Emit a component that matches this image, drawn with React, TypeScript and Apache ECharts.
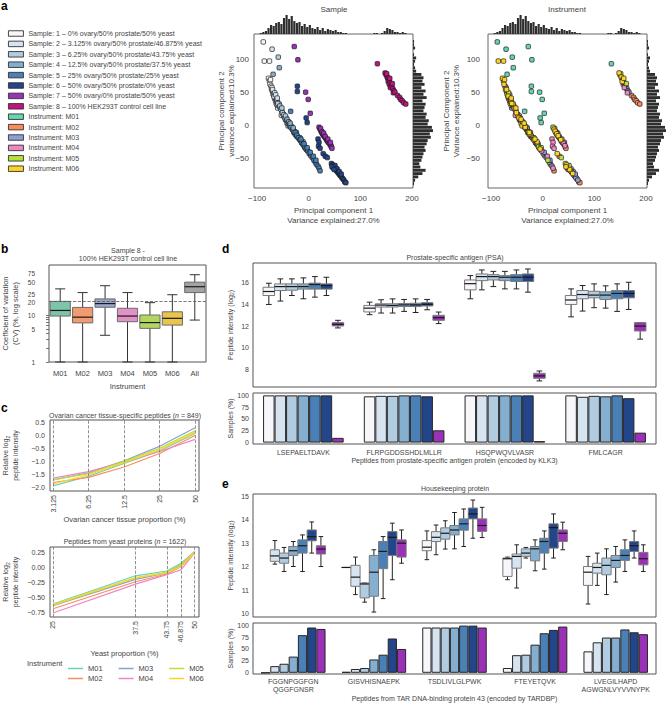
import React, { useEffect, useRef } from "react";
import * as echarts from "echarts";

const FONT = "'Liberation Sans', Arial, Helvetica, sans-serif";
const TEXT = "#444444";
const MINUS = "\u2212";

// ---------------- Panel a ----------------
const SAMPLE_NAMES = [
  "Sample: 1 \u2013 0% ovary/50% prostate/50% yeast",
  "Sample: 2 \u2013 3.125% ovary/50% prostate/46.875% yeast",
  "Sample: 3 \u2013 6.25% ovary/50% prostate/43.75% yeast",
  "Sample: 4 \u2013 12.5% ovary/50% prostate/37.5% yeast",
  "Sample: 5 \u2013 25% ovary/50% prostate/25% yeast",
  "Sample: 6 \u2013 50% ovary/50% prostate/0% yeast",
  "Sample: 7 \u2013 50% ovary/0% prostate/50% yeast",
  "Sample: 8 \u2013 100% HEK293T control cell line",
];
const INSTRUMENT_NAMES = ["M01", "M02", "M03", "M04", "M05", "M06"];
const SAMPLE_COLORS = ["#f6f6fb", "#d6e3f1", "#b1cce0", "#84afd1", "#4a80b6", "#23458a", "#9b31b7", "#c3127f"];
const INSTRUMENT_COLORS = ["#68d3b2", "#fb8b5d", "#8d9fd3", "#ee86c5", "#b6e03c", "#ffd324"];

// PCA points: [PC1, PC2, sample (1-8), instrument (1-6)]
const PCA_POINTS: number[][] = [
  // sample 1
  [-88, 127, 1, 1], [-86, 98, 1, 6], [-76, 98, 1, 6],
  [-78, 72, 1, 6], [-76, 68, 1, 5], [-75, 63, 1, 6], [-73, 60, 1, 4], [-72, 55, 1, 6], [-70, 52, 1, 2],
  [-69, 48, 1, 5], [-67, 45, 1, 6], [-66, 41, 1, 4], [-64, 38, 1, 2], [-63, 34, 1, 6], [-61, 31, 1, 5],
  [-60, 27, 1, 3], [-74, 70, 1, 6], [-71, 58, 1, 2], [-68, 50, 1, 3], [-65, 43, 1, 5], [-62, 36, 1, 6],
  // sample 2
  [-71, 116, 2, 1], [-70, 55, 2, 6], [-66, 50, 2, 5], [-67, 44, 2, 4], [-62, 40, 2, 6], [-60, 35, 2, 2],
  [-58, 30, 2, 5], [-55, 27, 2, 6], [-52, 22, 2, 3], [-53, 16, 2, 4], [-48, 14, 2, 6], [-45, 9, 2, 2],
  [-42, 4, 2, 5], [-40, 0, 2, 6], [-64, 47, 2, 4], [-57, 33, 2, 6], [-50, 18, 2, 2], [-44, 12, 2, 5],
  [-38, 3, 2, 3], [-61, 42, 2, 6],
  // sample 3
  [-59, 104, 3, 1], [-60, 34, 3, 6], [-56, 30, 3, 5], [-54, 25, 3, 4], [-51, 20, 3, 6], [-48, 17, 3, 2],
  [-46, 12, 3, 6], [-43, 9, 3, 5], [-40, 4, 3, 3], [-37, 0, 3, 4], [-34, -3, 3, 6], [-31, -6, 3, 2],
  [-29, -10, 3, 5], [-26, -13, 3, 6], [-23, -16, 3, 3], [-52, 27, 3, 6], [-45, 15, 3, 4], [-39, 6, 3, 2],
  [-33, -1, 3, 6], [-27, -9, 3, 5],
  // sample 4
  [-57, 88, 4, 1], [-69, 78, 4, 1], [-42, 10, 4, 6], [-39, 6, 4, 5], [-37, 2, 4, 4], [-34, -2, 4, 6],
  [-31, -5, 4, 2], [-28, -9, 4, 5], [-25, -12, 4, 6], [-22, -16, 4, 4], [-19, -19, 4, 3], [-16, -22, 4, 6],
  [-13, -26, 4, 2], [-10, -29, 4, 5], [-7, -33, 4, 4], [-4, -36, 4, 3], [-36, 4, 4, 6], [-30, -3, 4, 3],
  [-24, -10, 4, 2], [-17, -18, 4, 5], [-11, -24, 4, 6],
  // sample 5
  [-35, 22, 5, 1], [-26, -10, 5, 6], [-23, -14, 5, 5], [-20, -18, 5, 4], [-17, -21, 5, 6], [-14, -25, 5, 2],
  [-11, -28, 5, 3], [-8, -32, 5, 5], [-5, -35, 5, 6], [-2, -38, 5, 4], [1, -42, 5, 3], [4, -45, 5, 2],
  [7, -48, 5, 3], [10, -52, 5, 5], [13, -55, 5, 3], [15, -58, 5, 2], [18, -61, 5, 3], [20, -64, 5, 4],
  [22, -68, 5, 2], [-15, -20, 5, 6], [-9, -27, 5, 4], [-3, -33, 5, 5], [3, -40, 5, 3], [9, -46, 5, 4],
  [14, -52, 5, 3],
  // sample 6
  [-22, 60, 6, 1], [-22, 52, 6, 1], [-5, 12, 6, 1], [-3, 5, 6, 1],
  [18, -20, 6, 4], [20, -25, 6, 4], [19, -31, 6, 4], [22, -34, 6, 4], [28, -42, 6, 6], [32, -46, 6, 2],
  [36, -48, 6, 5], [44, -57, 6, 5], [46, -59, 6, 6], [48, -61, 6, 5], [50, -64, 6, 2], [52, -66, 6, 6],
  [54, -68, 6, 5], [56, -70, 6, 3], [58, -72, 6, 6], [60, -74, 6, 3], [62, -76, 6, 2], [64, -78, 6, 3],
  [66, -80, 6, 2], [68, -82, 6, 3], [70, -85, 6, 2], [72, -86, 6, 2], [47, -63, 6, 4], [51, -60, 6, 5],
  [55, -65, 6, 4], [59, -69, 6, 3], [63, -73, 6, 3], [45, -62, 6, 6], [49, -66, 6, 2],
  // sample 7
  [-28, 120, 7, 1], [-21, 100, 7, 1], [-6, 51, 7, 1], [-1, 40, 7, 1], [3, 19, 7, 1],
  [20, -2, 7, 5], [22, -5, 7, 6], [24, -8, 7, 6], [25, -10, 7, 5], [27, -12, 7, 6], [28, -14, 7, 5],
  [30, -15, 7, 6], [31, -17, 7, 2], [33, -19, 7, 5], [35, -21, 7, 6], [36, -23, 7, 4], [38, -25, 7, 3],
  [40, -26, 7, 4], [41, -28, 7, 2], [43, -30, 7, 4], [44, -32, 7, 2], [45, -34, 7, 2], [23, -4, 7, 3],
  [26, -9, 7, 4], [29, -11, 7, 3], [32, -16, 7, 4], [37, -20, 7, 5], [42, -25, 7, 3],
  // sample 8
  [133, 94, 8, 1], [148, 80, 8, 6], [150, 77, 8, 5], [152, 74, 8, 6], [153, 72, 8, 5], [155, 70, 8, 6],
  [154, 67, 8, 6], [157, 66, 8, 5], [156, 63, 8, 4], [159, 61, 8, 4], [158, 58, 8, 4], [161, 60, 8, 3],
  [163, 56, 8, 3], [165, 53, 8, 3], [164, 50, 8, 4], [167, 51, 8, 3], [172, 46, 8, 2], [176, 43, 8, 2],
  [178, 40, 8, 2], [181, 38, 8, 2], [184, 35, 8, 2], [188, 33, 8, 2], [151, 79, 8, 5], [157, 72, 8, 6],
  [162, 64, 8, 5],
];
const PC_X_TICKS = [-100, 0, 100, 200];
const PC_Y_TICKS = [-50, 0, 50, 100];
const HIST_BIN = 5;
const PC1_HIST_START = -95;
const PC1_HIST = [
  1, 2, 3, 6, 9, 8, 11, 12, 10, 16, 19, 15, 18, 13, 11, 12, 8, 10, 7, 9, 6, 5, 7, 4, 6, 3, 5, 4, 3, 4,
  2, 2, 1, 1, 0, 0, 0, 0, 0, 0, 0, 0, 0, 0, 1, 1, 0, 1, 3, 6, 5, 4, 2, 2, 1, 2, 1,
];
const PC2_HIST_START = -90;
const PC2_HIST = [
  1, 2, 5, 9, 12, 7, 6, 8, 9, 10, 12, 11, 13, 14, 17, 16, 19, 18, 14, 15, 12, 13, 10, 11, 12, 9, 13, 10,
  12, 8, 11, 9, 10, 8, 3, 2, 1, 2, 3, 1, 0, 2, 1, 1, 0,
];

// ---------------- Panel b ----------------
const CV_CATEGORIES = ["M01", "M02", "M03", "M04", "M05", "M06", "All"];
const CV_COLORS = ["#7ec4a8", "#f29b72", "#9aa6cb", "#e292c6", "#b2d661", "#eac54b", "#a3a3a3"];
// [low whisker, q1, median, q3, high whisker] in CV %
const CV_BOXES = [
  [1, 9.5, 12.5, 19.5, 36],
  [1, 6.8, 9.0, 14.5, 30],
  [3.7, 14.6, 17.5, 22, 42],
  [1, 7.2, 9.5, 13.9, 30],
  [1, 5.2, 6.9, 10, 18.3],
  [1, 6.1, 8.5, 11.7, 27],
  [7.8, 30, 40, 50, 72],
];
const CV_TICKS = [1, 5, 10, 20, 25, 50, 75, 100];
const CV_MINOR_TICKS = [1, 2, 3, 4, 5, 6, 7, 8, 9, 10];
const CV_THRESHOLD = 20;

// ---------------- Panel c ----------------
const OVARIAN_PCT = [3.125, 6.25, 12.5, 25, 50];
const OVARIAN_LABELS = ["3.125", "6.25", "12.5", "25", "50"];
const OVARIAN_LINES = [
  [-1.95, -1.58, -1.08, -0.6, 0.08],
  [-1.82, -1.62, -1.22, -0.7, 0.0],
  [-1.72, -1.45, -0.98, -0.42, 0.3],
  [-1.65, -1.4, -1.02, -0.62, -0.15],
  [-1.72, -1.48, -1.0, -0.5, 0.18],
  [-1.88, -1.52, -1.05, -0.55, 0.12],
];
const OVARIAN_Y_TICKS = [-2, -1.5, -1, -0.5, 0, 0.5];
const YEAST_PCT = [25, 37.5, 43.75, 46.875, 50];
const YEAST_LABELS = ["25", "37.5", "43.75", "46.875", "50"];
const YEAST_LINES = [
  [-0.6, -0.13, -0.05, 0.08, 0.26],
  [-0.68, -0.23, -0.1, 0.02, 0.25],
  [-0.63, -0.19, -0.08, 0.05, 0.27],
  [-0.75, -0.27, -0.11, -0.03, 0.24],
  [-0.62, -0.17, -0.07, 0.06, 0.26],
  [-0.61, -0.16, -0.08, 0.02, 0.25],
];
const YEAST_Y_TICKS = [-0.75, -0.5, -0.25, 0, 0.25];

// ---------------- Panel d ----------------
const PSA_PEPTIDES = ["LSEPAELTDAVK", "FLRPGDDSSHDLMLLR", "HSQPWQVLVASR", "FMLCAGR"];
// per sample (1-7), per peptide: [low, q1, median, q3, high] log2 intensity
const PSA_BOXES = [
  [[13.99, 14.81, 15.18, 15.57, 15.94], [13.05, 13.3, 13.65, 13.9, 14.2], [14.51, 15.33, 15.9, 16.24, 16.64], [12.85, 13.99, 14.4, 14.81, 15.42]],
  [[14.3, 15.27, 15.63, 15.88, 16.34], [13.2, 13.75, 13.93, 14.05, 14.42], [15.33, 16.18, 16.55, 16.79, 17.16], [13.38, 14.51, 14.9, 15.27, 15.73]],
  [[14.81, 15.3, 15.63, 15.88, 16.34], [13.2, 13.75, 13.9, 14.05, 14.5], [15.63, 16.24, 16.55, 16.73, 17.03], [13.69, 14.6, 14.85, 15.2, 15.88]],
  [[14.51, 15.4, 15.63, 15.88, 16.43], [13.35, 13.8, 13.95, 14.08, 14.45], [15.42, 16.18, 16.49, 16.64, 17.03], [13.65, 14.45, 14.85, 15.15, 15.7]],
  [[14.66, 15.4, 15.82, 15.95, 16.55], [13.25, 13.8, 13.95, 14.1, 14.5], [15.42, 16.1, 16.49, 16.73, 17.16], [13.35, 14.51, 15.0, 15.27, 15.88]],
  [[14.81, 15.4, 15.73, 15.88, 16.49], [13.5, 13.85, 14.0, 14.15, 14.45], [15.12, 16.1, 16.49, 16.79, 17.25], [13.53, 14.6, 15.0, 15.27, 16.03]],
  [[11.83, 12.01, 12.16, 12.32, 12.53], [12.23, 12.53, 12.77, 12.99, 13.29], [6.96, 7.2, 7.42, 7.66, 7.87], [10.8, 11.55, 12.0, 12.32, 12.32]],
];
const PSA_DETECTED = [
  [100, 98, 100, 100],
  [100, 99, 100, 97],
  [100, 99, 100, 99],
  [100, 100, 100, 98],
  [100, 100, 100, 100],
  [100, 98, 100, 94],
  [10, 26, 3, 21],
];
const PSA_Y_TICKS = [8, 10, 12, 14, 16];
const PCT_TICKS = [0, 25, 50, 75, 100];

// ---------------- Panel e ----------------
const TDP_PEPTIDES = ["FGGNPGGFGN\nQGGFGNSR", "GISVHISNAEPK", "TSDLIVLGLPWK", "FTEYETQVK", "LVEGILHAPD\nAGWGNLVYVVNYPK"];
const TDP_BOXES: (number[] | null)[][] = [
  [null, [11.97, 11.97, 11.97, 11.97, 11.97], [12.3, 12.68, 12.83, 13.11, 13.52], [11.45, 11.59, 12.34, 12.37, 12.41], [10.42, 11.21, 11.77, 12.01, 12.44]],
  [[12.11, 12.23, 12.46, 12.72, 13.11], [10.82, 11.17, 11.56, 12.06, 12.41], [12.51, 13.07, 13.25, 13.49, 13.77], [11.1, 11.94, 12.44, 12.54, 12.93], [11.21, 11.73, 11.97, 12.15, 12.58]],
  [[11.8, 12.15, 12.37, 12.58, 12.82], [10.5, 10.68, 11.27, 11.31, 11.31], [12.75, 13.17, 13.42, 13.65, 13.95], [12.37, 12.44, 12.58, 12.76, 12.82], [10.82, 11.66, 12.06, 12.37, 12.76]],
  [[12.01, 12.48, 12.68, 12.86, 13.07], [10.08, 10.75, 11.77, 12.48, 12.72], [12.76, 13.35, 13.56, 13.75, 14.3], [11.83, 12.25, 12.76, 12.86, 13.14], [11.35, 11.97, 12.27, 12.48, 12.86]],
  [[11.8, 12.58, 12.89, 13.14, 13.35], [10.65, 11.92, 12.65, 13.07, 13.28], [12.86, 13.55, 13.82, 14.03, 14.45], [11.9, 12.58, 13.07, 13.21, 13.52], [11.8, 12.27, 12.48, 12.72, 13.14]],
  [[12.58, 13.1, 13.28, 13.56, 13.9], [11.45, 12.48, 13.25, 13.49, 13.85], [13.21, 14.03, 14.24, 14.49, 14.83], [12.37, 12.79, 13.66, 13.82, 14.24], [12.37, 12.65, 12.89, 13.07, 13.52]],
  [[12.01, 12.54, 12.75, 12.89, 13.28], [12.15, 12.41, 13.0, 13.14, 13.56], [13.24, 13.5, 13.75, 14.03, 14.52], [12.72, 13.07, 13.42, 13.56, 13.89], [11.8, 12.08, 12.34, 12.61, 12.93]],
];
const TDP_DETECTED = [
  [0, 2, 95, 10, 45],
  [14, 8, 95, 37, 64],
  [19, 10, 95, 38, 74],
  [34, 28, 95, 59, 74],
  [79, 38, 99, 83, 91],
  [95, 72, 99, 90, 85],
  [92, 50, 95, 97, 81],
];
const TDP_Y_TICKS = [10, 11, 12, 13, 14, 15];

// ---------------- helpers ----------------
const fmtNum = (v: number, d: number) => {
  const s = Math.abs(v).toFixed(d);
  return v < -1e-9 ? MINUS + s : s;
};
const nearestLabel = (vals: number[], labels: string[]) => (v: number) => {
  let best = 0;
  vals.forEach((x, i) => {
    if (Math.abs(x - v) < Math.abs(vals[best] - v)) best = i;
  });
  return labels[best];
};

function boxRenderer(count: number, frac: number, colorOf: (cat: number, slot: number) => string, edge: string, whisker: string) {
  return (params: any, api: any) => {
    const cat = api.value(0);
    const slot = api.value(1);
    const lo = api.value(2), q1 = api.value(3), med = api.value(4), q3 = api.value(5), hi = api.value(6);
    const band = api.size([1, 0])[0];
    const groupW = band * frac;
    const w = groupW / count;
    const c = api.coord([cat, med]);
    const cx = c[0] - groupW / 2 + w * (slot + 0.5);
    const yLo = api.coord([cat, lo])[1];
    const yQ1 = api.coord([cat, q1])[1];
    const yQ3 = api.coord([cat, q3])[1];
    const yHi = api.coord([cat, hi])[1];
    const half = w / 2;
    const capHalf = w * 0.25;
    const ws = { stroke: whisker, lineWidth: 1 };
    return {
      type: "group",
      children: [
        { type: "line", shape: { x1: cx, y1: yHi, x2: cx, y2: yQ3 }, style: ws },
        { type: "line", shape: { x1: cx, y1: yQ1, x2: cx, y2: yLo }, style: ws },
        { type: "line", shape: { x1: cx - capHalf, y1: yHi, x2: cx + capHalf, y2: yHi }, style: ws },
        { type: "line", shape: { x1: cx - capHalf, y1: yLo, x2: cx + capHalf, y2: yLo }, style: ws },
        { type: "rect", shape: { x: cx - half, y: yQ3, width: w, height: yQ1 - yQ3 }, style: { fill: colorOf(cat, slot), stroke: edge, lineWidth: 1 } },
        { type: "line", shape: { x1: cx - half, y1: c[1], x2: cx + half, y2: c[1] }, style: { stroke: "#1a1a1a", lineWidth: 1.2 } },
      ],
    };
  };
}

const topHistRender = (params: any, api: any) => {
  const x0 = api.value(0), h = api.value(1);
  const a = api.coord([x0, 0]);
  const b = api.coord([x0 + HIST_BIN, h]);
  return { type: "rect", shape: { x: a[0], y: b[1], width: Math.max(b[0] - a[0] - 0.4, 0.5), height: a[1] - b[1] }, style: { fill: "#2e2e2e" } };
};
const rightHistRender = (params: any, api: any) => {
  const w = api.value(0), y0 = api.value(1);
  const a = api.coord([0, y0]);
  const b = api.coord([w, y0 + HIST_BIN]);
  return { type: "rect", shape: { x: a[0], y: b[1], width: b[0] - a[0], height: Math.max(a[1] - b[1] - 0.4, 0.5) }, style: { fill: "#2e2e2e" } };
};

const label = (size: number, extra: any = {}) => ({ fontSize: size, color: TEXT, fontFamily: FONT, ...extra });
const noLines = { axisLine: { show: false }, axisTick: { show: false }, splitLine: { show: false } };
const nameBase = (size: number, extra: any = {}) => ({ fontSize: size, color: TEXT, fontFamily: FONT, ...extra });

function gtext(x: number, y: number, text: string, size: number, extra: any = {}) {
  return {
    type: "text",
    x,
    y,
    silent: true,
    style: { text, fontSize: size, fontFamily: FONT, fill: TEXT, align: "center", verticalAlign: "middle", ...extra },
  };
}

function buildOption() {
  const frame = (left: number, top: number, width: number, height: number, color = "#666") => ({
    left, top, width, height, show: true, borderColor: color, borderWidth: 1, backgroundColor: "transparent",
    containLabel: false, outerBoundsMode: "none",
  });
  const plain = (left: number, top: number, width: number, height: number) => ({
    left, top, width, height, show: false, containLabel: false, outerBoundsMode: "none",
  });
  const grid = [
    frame(254, 34, 159, 154), // 0 sample scatter
    plain(254, 14, 159, 20), // 1
    plain(413, 34, 21, 154), // 2
    frame(488, 34, 159, 154), // 3 instrument scatter
    plain(488, 14, 159, 20), // 4
    plain(647, 34, 20, 154), // 5
    frame(49, 265, 157, 97, "#555"), // 6 b
    frame(50, 420, 149, 71, "#555"), // 7 c top
    frame(50, 547, 149, 70, "#555"), // 8 c bottom
    frame(253, 263, 403, 124, "#555"), // 9 d box
    frame(253, 393, 403, 51, "#555"), // 10 d bar
    frame(253, 494, 403, 123, "#555"), // 11 e box
    frame(253, 623, 403, 51, "#555"), // 12 e bar
  ];

  const PCX = [-106, 202];
  const PCY = [-94, 139];
  const scatterX = (gi: number) => ({
    type: "value", gridIndex: gi, min: PCX[0], max: PCX[1], ...noLines,
    axisLabel: { customValues: PC_X_TICKS, margin: 6, formatter: (v: number) => fmtNum(v, 0), ...label(8) },
    name: "Principal component 1\nVariance explained:27.0%", nameLocation: "middle", nameGap: 17, nameMoveOverlap: false,
    nameTextStyle: nameBase(8, { lineHeight: 10 }),
  });
  const scatterY = (gi: number, name: string, gap: number, margin: number) => ({
    type: "value", gridIndex: gi, min: PCY[0], max: PCY[1], ...noLines,
    axisLabel: { customValues: PC_Y_TICKS, margin, formatter: (v: number) => fmtNum(v, 0), ...label(8) },
    name, nameLocation: "middle", nameGap: gap, nameMoveOverlap: false,
    nameTextStyle: nameBase(8, { lineHeight: 10 }),
  });
  const hidden = (gi: number, min: number, max: number) => ({ type: "value", gridIndex: gi, min, max, show: false });

  const ovX = OVARIAN_PCT.map((p) => Math.log2(p / OVARIAN_PCT[0]));
  const yeX = YEAST_PCT.map((p) => Math.log2(p / YEAST_PCT[0]));
  const log10 = (v: number) => Math.log10(v);

  const sub = { sub: { fontSize: 5, verticalAlign: "bottom", color: TEXT, fontFamily: FONT } };

  const xAxis: any[] = [
    scatterX(0),
    hidden(1, PCX[0], PCX[1]),
    hidden(2, 0, 20),
    scatterX(3),
    hidden(4, PCX[0], PCX[1]),
    hidden(5, 0, 20),
    {
      type: "category", gridIndex: 6, data: CV_CATEGORIES, ...noLines,
      axisLabel: { margin: 7, ...label(7.5) },
      name: "Instrument", nameLocation: "middle", nameGap: 20, nameMoveOverlap: false, nameTextStyle: nameBase(7.5),
    },
    {
      type: "value", gridIndex: 7, min: -0.085, max: 4.11, ...noLines,
      axisLabel: { customValues: ovX, rotate: 90, margin: 4, formatter: nearestLabel(ovX, OVARIAN_LABELS), ...label(7) },
      name: "Ovarian cancer tissue proportion (%)", nameLocation: "middle", nameGap: 24, nameMoveOverlap: false, nameTextStyle: nameBase(7.5),
    },
    {
      type: "value", gridIndex: 8, min: -0.021, max: 1.035, ...noLines,
      axisLabel: { customValues: yeX, rotate: 90, margin: 4, formatter: nearestLabel(yeX, YEAST_LABELS), ...label(7) },
      name: "Yeast proportion (%)", nameLocation: "middle", nameGap: 32, nameMoveOverlap: false, nameTextStyle: nameBase(7.5),
    },
    { type: "category", gridIndex: 9, data: PSA_PEPTIDES, show: false },
    {
      type: "category", gridIndex: 10, data: PSA_PEPTIDES, ...noLines,
      axisLabel: { interval: 0, margin: 5, ...label(7) },
      name: "Peptides from prostate-specific antigen protein (encoded by KLK3)", nameLocation: "middle", nameGap: 13,
      nameMoveOverlap: false, nameTextStyle: nameBase(7),
    },
    { type: "category", gridIndex: 11, data: TDP_PEPTIDES, show: false },
    {
      type: "category", gridIndex: 12, data: TDP_PEPTIDES, ...noLines,
      axisLabel: { interval: 0, margin: 3, lineHeight: 8, ...label(7) },
      name: "Peptides from TAR DNA-binding protein 43 (encoded by TARDBP)", nameLocation: "middle", nameGap: 21,
      nameMoveOverlap: false, nameTextStyle: nameBase(7),
    },
  ];

  // CV labels: 25 nudged up and 20 nudged down so the two close ticks stay readable
  const cvLabel = (v: number) => {
    const n = Math.round(Math.pow(10, v));
    if (n === 25) return "{up|25}";
    if (n === 20) return "{dn|20}";
    return String(n);
  };

  const yAxis: any[] = [
    scatterY(0, "Principal component 2\nvariance explained:10.3%", 18, 5),
    hidden(1, 0, 20),
    hidden(2, PCY[0], PCY[1]),
    scatterY(3, "Principal Component 2\nVariance explained:10.3%", 27, 8),
    hidden(4, 0, 20),
    hidden(5, PCY[0], PCY[1]),
    {
      type: "value", gridIndex: 6, min: 0, max: 2.064, axisLine: { show: false }, splitLine: { show: false },
      axisTick: { show: true, customValues: CV_MINOR_TICKS.map(log10), length: 3, lineStyle: { color: "#555", width: 0.8 } },
      axisLabel: {
        customValues: CV_TICKS.map(log10), margin: 14, formatter: cvLabel, ...label(6.5),
        rich: {
          up: { fontSize: 6.5, color: TEXT, fontFamily: FONT, padding: [0, 0, 3, 0] },
          dn: { fontSize: 6.5, color: TEXT, fontFamily: FONT, padding: [3, 0, 0, 0] },
        },
      },
      name: "Coefficient of variation\n(CV) (%, log scale)", nameLocation: "middle", nameGap: 29, nameMoveOverlap: false,
      nameTextStyle: nameBase(7.5, { lineHeight: 10 }),
    },
    {
      type: "value", gridIndex: 7, min: -2.15, max: 0.6, ...noLines,
      axisLabel: { customValues: OVARIAN_Y_TICKS, margin: 5, formatter: (v: number) => fmtNum(v, 1), ...label(7) },
      name: "Relative log{sub|2}\npeptide intensity", nameLocation: "middle", nameGap: 30, nameMoveOverlap: false,
      nameTextStyle: nameBase(7, { lineHeight: 10, rich: sub }),
    },
    {
      type: "value", gridIndex: 8, min: -0.817, max: 0.35, ...noLines,
      axisLabel: { customValues: YEAST_Y_TICKS, margin: 5, formatter: (v: number) => fmtNum(v, 2), ...label(7) },
      name: "Relative log{sub|2}\npeptide intensity", nameLocation: "middle", nameGap: 30, nameMoveOverlap: false,
      nameTextStyle: nameBase(7, { lineHeight: 10, rich: sub }),
    },
    {
      type: "value", gridIndex: 9, min: 6.4, max: 17.8, ...noLines,
      axisLabel: { customValues: PSA_Y_TICKS, margin: 4, ...label(7) },
      name: "Peptide intensity (log{sub|2})", nameLocation: "middle", nameGap: 19, nameMoveOverlap: false,
      nameTextStyle: nameBase(7, { rich: sub }),
    },
    {
      type: "value", gridIndex: 10, min: -3, max: 105, ...noLines,
      axisLabel: { customValues: PCT_TICKS, margin: 4, ...label(7) },
      name: "Samples (%)", nameLocation: "middle", nameGap: 19, nameMoveOverlap: false, nameTextStyle: nameBase(7),
    },
    {
      type: "value", gridIndex: 11, min: 9.87, max: 15.085, ...noLines,
      axisLabel: { customValues: TDP_Y_TICKS, margin: 4, ...label(7) },
      name: "Peptide intensity (log{sub|2})", nameLocation: "middle", nameGap: 19, nameMoveOverlap: false,
      nameTextStyle: nameBase(7, { rich: sub }),
    },
    {
      type: "value", gridIndex: 12, min: -2.5, max: 104.5, ...noLines,
      axisLabel: { customValues: PCT_TICKS, margin: 4, ...label(7) },
      name: "Samples (%)", nameLocation: "middle", nameGap: 19, nameMoveOverlap: false, nameTextStyle: nameBase(7),
    },
  ];

  const series: any[] = [];
  const scatterStyle = (color: string) => ({ color, borderColor: "#1a1a1a", borderWidth: 0.7, opacity: 1 });

  // histograms
  const topHistData = PC1_HIST.map((c, i) => [PC1_HIST_START + i * HIST_BIN, c]);
  const rightHistData = PC2_HIST.map((c, i) => [c, PC2_HIST_START + i * HIST_BIN]);
  [1, 4].forEach((gi) =>
    series.push({ type: "custom", name: "PC1 histogram", xAxisIndex: gi, yAxisIndex: gi, renderItem: topHistRender, data: topHistData, silent: true })
  );
  [2, 5].forEach((gi) =>
    series.push({ type: "custom", name: "PC2 histogram", xAxisIndex: gi, yAxisIndex: gi, renderItem: rightHistRender, data: rightHistData, silent: true })
  );

  SAMPLE_NAMES.forEach((name, s) => {
    series.push({
      type: "scatter", name, xAxisIndex: 0, yAxisIndex: 0, symbol: "roundRect", symbolSize: 4.5,
      itemStyle: scatterStyle(SAMPLE_COLORS[s]),
      data: PCA_POINTS.filter((p) => p[2] === s + 1).map((p) => [p[0], p[1]]),
    });
  });
  INSTRUMENT_NAMES.forEach((m, i) => {
    series.push({
      type: "scatter", name: "Instrument: " + m, xAxisIndex: 3, yAxisIndex: 3, symbol: "roundRect", symbolSize: 4.5,
      itemStyle: scatterStyle(INSTRUMENT_COLORS[i]),
      data: PCA_POINTS.filter((p) => p[3] === i + 1).map((p) => [p[0], p[1]]),
    });
  });

  // panel b
  series.push({
    type: "custom", name: "CV", xAxisIndex: 6, yAxisIndex: 6,
    renderItem: boxRenderer(1, 0.9, (cat) => CV_COLORS[cat], "#6b6b6b", "#333"),
    encode: { x: 0, y: [2, 3, 4, 5, 6] },
    data: CV_BOXES.map((b, i) => [i, 0, ...b.map(log10)]),
    markLine: {
      silent: true, symbol: ["none", "none"], label: { show: false },
      lineStyle: { type: "dashed", color: "#555", width: 0.8 },
      data: [{ yAxis: log10(CV_THRESHOLD) }],
    },
  });

  // panel c
  const vLines = (vals: number[]) => ({
    silent: true, symbol: ["none", "none"], label: { show: false },
    lineStyle: { type: "dashed", color: "#777", width: 0.8 },
    data: vals.map((v) => ({ xAxis: v })),
  });
  INSTRUMENT_NAMES.forEach((m, i) => {
    series.push({
      type: "line", name: m, xAxisIndex: 7, yAxisIndex: 7, symbol: "none",
      lineStyle: { color: INSTRUMENT_COLORS[i], width: 1.2 }, itemStyle: { color: INSTRUMENT_COLORS[i] },
      data: OVARIAN_LINES[i].map((v, k) => [ovX[k], v]),
      ...(i === 0 ? { markLine: vLines(ovX) } : {}),
    });
  });
  INSTRUMENT_NAMES.forEach((m, i) => {
    series.push({
      type: "line", name: m, xAxisIndex: 8, yAxisIndex: 8, symbol: "none",
      lineStyle: { color: INSTRUMENT_COLORS[i], width: 1.2 }, itemStyle: { color: INSTRUMENT_COLORS[i] },
      data: YEAST_LINES[i].map((v, k) => [yeX[k], v]),
      ...(i === 0 ? { markLine: vLines(yeX) } : {}),
    });
  });

  // panel d
  const psaBoxData: number[][] = [];
  PSA_BOXES.forEach((row, s) => row.forEach((b, g) => psaBoxData.push([g, s, ...b])));
  series.push({
    type: "custom", name: "PSA intensity", xAxisIndex: 9, yAxisIndex: 9,
    renderItem: boxRenderer(7, 0.8, (c, s) => SAMPLE_COLORS[s], "#7a7a7a", "#222"),
    encode: { x: 0, y: [2, 3, 4, 5, 6] }, data: psaBoxData,
  });
  PSA_DETECTED.forEach((vals, s) => {
    series.push({
      type: "bar", name: "PSA detected " + (s + 1), xAxisIndex: 10, yAxisIndex: 10, barGap: "0%", barCategoryGap: "20%",
      itemStyle: { color: SAMPLE_COLORS[s], borderColor: "#262626", borderWidth: 1 }, data: vals,
    });
  });

  // panel e
  const tdpBoxData: number[][] = [];
  TDP_BOXES.forEach((row, s) => row.forEach((b, g) => { if (b) tdpBoxData.push([g, s, ...b]); }));
  series.push({
    type: "custom", name: "TDP intensity", xAxisIndex: 11, yAxisIndex: 11,
    renderItem: boxRenderer(7, 0.8, (c, s) => SAMPLE_COLORS[s], "#7a7a7a", "#222"),
    encode: { x: 0, y: [2, 3, 4, 5, 6] }, data: tdpBoxData,
  });
  TDP_DETECTED.forEach((vals, s) => {
    series.push({
      type: "bar", name: "TDP detected " + (s + 1), xAxisIndex: 12, yAxisIndex: 12, barGap: "0%", barCategoryGap: "20%",
      itemStyle: { color: SAMPLE_COLORS[s], borderColor: "#262626", borderWidth: 1 }, data: vals,
    });
  });

  const legendA = {
    orient: "vertical", left: 8, top: 29.5, itemWidth: 15, itemHeight: 5.5, itemGap: 2.4, icon: "rect",
    selectedMode: false, padding: 0,
    data: [...SAMPLE_NAMES, ...INSTRUMENT_NAMES.map((m) => "Instrument: " + m)],
    textStyle: { fontSize: 7, color: TEXT, fontFamily: FONT, lineHeight: 8 },
    itemStyle: { borderColor: "#333", borderWidth: 0.9 },
  };
  const legendC = (top: number, data: string[]) => ({
    orient: "horizontal", left: 68, top, itemWidth: 15, itemHeight: 1.5, itemGap: 16, icon: "rect",
    selectedMode: false, padding: 0, data,
    textStyle: { fontSize: 7.5, color: TEXT, fontFamily: FONT, lineHeight: 9 },
    itemStyle: { borderWidth: 0 },
  });

  const italic = { i: { fontStyle: "italic", fontSize: 7, fill: TEXT, fontFamily: FONT } };
  const graphic = [
    gtext(1, 0, "a", 12, { fontWeight: "bold", fill: "#000", align: "left", verticalAlign: "top" }),
    gtext(1, 249, "b", 12, { fontWeight: "bold", fill: "#000", align: "left" }),
    gtext(1, 408, "c", 12, { fontWeight: "bold", fill: "#000", align: "left" }),
    gtext(222, 249, "d", 12, { fontWeight: "bold", fill: "#000", align: "left" }),
    gtext(222, 483.5, "e", 12, { fontWeight: "bold", fill: "#000", align: "left" }),
    gtext(334, 9, "Sample", 8),
    gtext(567, 9, "Instrument", 8),
    gtext(128, 250, "Sample 8 -", 7),
    gtext(128, 258, "100% HEK293T control cell line", 7),
    gtext(125, 415, "Ovarian cancer tissue-specific peptides ({i|n} = 849)", 7, { rich: italic }),
    gtext(125, 541, "Peptides from yeast proteins ({i|n} = 1622)", 7, { rich: italic }),
    gtext(455, 257, "Prostate-specific antigen (PSA)", 7),
    gtext(455, 488, "Housekeeping protein", 7),
    gtext(27, 663, "Instrument", 7.5, { align: "left" }),
  ];

  return {
    animation: false,
    backgroundColor: "#ffffff",
    textStyle: { fontFamily: FONT },
    grid,
    xAxis,
    yAxis,
    legend: [legendA, legendC(664, ["M01", "M03", "M05"]), legendC(674, ["M02", "M04", "M06"])],
    graphic,
    series,
  };
}

export default function App() {
  const ref = useRef<HTMLDivElement>(null);
  useEffect(() => {
    if (!ref.current) return;
    const chart = echarts.init(ref.current, undefined, { renderer: "svg" });
    chart.setOption(buildOption() as any);
    return () => chart.dispose();
  }, []);
  return (
    <div
      ref={ref}
      style={{ position: "absolute", left: 0, top: 0, width: 667, height: 703, background: "#ffffff" }}
    />
  );
}
